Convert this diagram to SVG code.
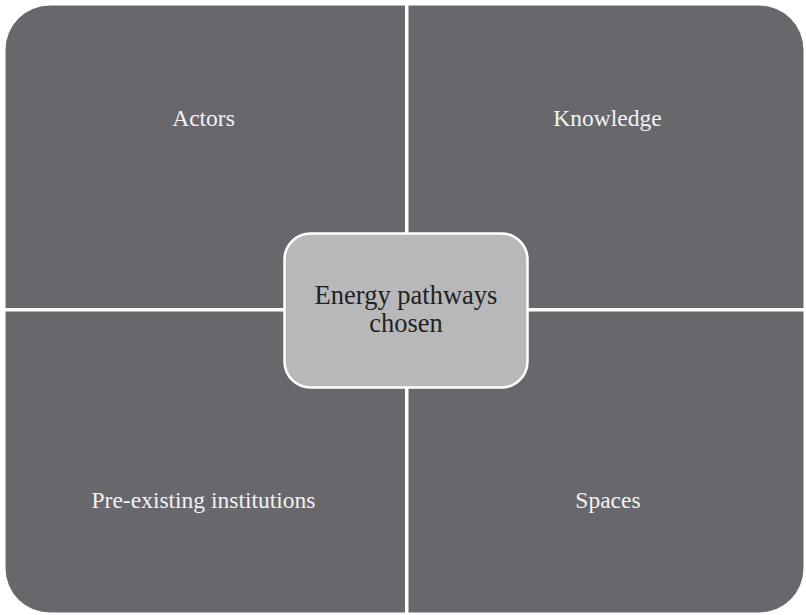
<svg xmlns="http://www.w3.org/2000/svg" width="806" height="615" viewBox="0 0 806 615">
  <style>
    .quad { fill: #68686c; stroke: #ffffff; stroke-width: 1; }
    .qlabel { font-family: "Liberation Serif", "Times New Roman", serif; font-size: 23.5px; fill: #f2f2f2; text-anchor: middle; }
    .hub { fill: #b8b8bb; stroke: #ffffff; stroke-width: 2.5; }
    .hlabel { font-family: "Liberation Serif", "Times New Roman", serif; font-size: 26.5px; fill: #222222; text-anchor: middle; }
  </style>
  <rect width="806" height="615" fill="#ffffff"/>

  <!-- four quadrants, each rounded only at its outer corner -->
  <g id="actors">
    <path class="quad" d="M5,50 A45,45 0 0 1 50,5 L405.5,5 L405.5,308.5 L5,308.5 Z"/>
    <text class="qlabel" x="203.5" y="126">Actors</text>
  </g>
  <g id="knowledge">
    <path class="quad" d="M408,5 L759,5 A45,45 0 0 1 804,50 L804,308.5 L408,308.5 Z"/>
    <text class="qlabel" x="607.5" y="126">Knowledge</text>
  </g>
  <g id="institutions">
    <path class="quad" d="M5,311 L405.5,311 L405.5,613 L50,613 A45,45 0 0 1 5,568 Z"/>
    <text class="qlabel" x="203.5" y="508">Pre-existing institutions</text>
  </g>
  <g id="spaces">
    <path class="quad" d="M408,311 L804,311 L804,568 A45,45 0 0 1 759,613 L408,613 Z"/>
    <text class="qlabel" x="608" y="508">Spaces</text>
  </g>

  <!-- central node, label on two lines -->
  <g id="energy-pathways">
    <rect class="hub" x="284.5" y="233.5" width="243" height="154" rx="26" ry="26"/>
    <text class="hlabel" x="406" y="304">Energy pathways<tspan x="406" dy="28">chosen</tspan></text>
  </g>
</svg>
